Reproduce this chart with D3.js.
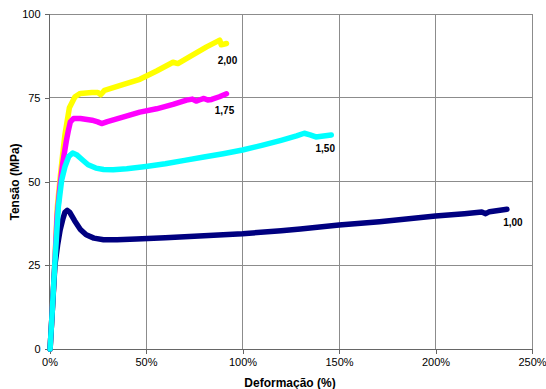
<!DOCTYPE html>
<html><head><meta charset="utf-8">
<script src="https://cdn.jsdelivr.net/npm/d3@7"></script>
<style>body{margin:0;background:#fff}svg{display:block}text{font-family:"Liberation Sans",Arial,sans-serif}</style>
</head><body><svg id="c" width="546" height="389"></svg>
<script>
const xTicks = [0, 50, 100, 150, 200, 250];
const yTicks = [0, 25, 50, 75, 100];
const seriesNames = ["1,00", "1,50", "1,75", "2,00"];
const s100 = [[0.3,0],[1.5,12],[2.8,25],[4.2,31],[5.5,35.5],[7,39],[8,40.8],[9.2,41.4],[10.5,40.8],[13,38.3],[16,35.7],[19,34.1],[23,33.1],[28,32.6],[35,32.6],[45,32.8],[60,33.2],[80,33.8],[100,34.4],[120,35.3],[130,35.8],[150,37],[171,38],[200,39.7],[215,40.4],[224,40.9],[226,40.4],[228,41.0],[237,41.7]];
const s150 = [[0.3,0],[1.5,12],[2.7,25],[4,37],[4.6,42.5],[6.3,50.4],[8,54.4],[10,57.5],[12,58.5],[14,58],[17,56.5],[20,55],[24,54],[28,53.6],[33,53.5],[40,53.8],[50,54.5],[60,55.3],[70,56.3],[80,57.3],[90,58.3],[100,59.4],[110,60.8],[120,62.3],[128,63.6],[132,64.4],[135,63.9],[138,63.3],[142,63.6],[146,63.9]];
const s175 = [[0.3,0],[1.5,12],[2.7,25],[4,40],[5.5,49],[7,56],[8.7,62],[9.7,65],[10.8,67.8],[12.5,68.8],[16,68.8],[22,68.3],[25,67.8],[27,67.3],[30,67.9],[38,69.2],[46.8,70.7],[55.5,71.7],[64,73],[71,74.3],[74,74.6],[76,74],[78,74.4],[80,74.8],[82,74.3],[84,74.5],[88,75.3],[91.7,76.2]];
const s200 = [[0.3,0],[1.5,12],[2.7,25],[4,42],[5.5,51],[6.8,58],[8,64],[10.3,72],[13.2,75.3],[16,76.3],[22,76.6],[25,76.6],[26.5,75.9],[28.5,77.2],[38,78.9],[46.8,80.5],[55.5,83],[64,85.6],[66.5,85.2],[72.7,87.3],[81.4,90.2],[88.2,92.2],[89,90.8],[91.7,91.2]];

const data = [s100, s150, s175, s200];
const colors = ["#000080", "#00FFFF", "#FF00FF", "#FFFF00"];
const labelOffsets = [[6,17],[-6,17],[-2,20],[1,21]];

const svg = d3.select("#c");
const x = d3.scaleLinear().domain([0,250]).range([49.5,532]);
const y = d3.scaleLinear().domain([0,100]).range([349,14]);

// grid
svg.append("g").selectAll("line").data(yTicks.filter(d=>d>0)).join("line")
  .attr("x1",x(0)).attr("x2",x(250)).attr("y1",d=>y(d)).attr("y2",d=>y(d))
  .attr("stroke","#8c8c8c").attr("stroke-width",1).attr("shape-rendering","crispEdges");
svg.append("g").selectAll("line").data(xTicks.filter(d=>d>0)).join("line")
  .attr("x1",d=>x(d)).attr("x2",d=>x(d)).attr("y1",y(0)).attr("y2",y(100))
  .attr("stroke","#8c8c8c").attr("stroke-width",1).attr("shape-rendering","crispEdges");

// axes
const xAxis = d3.axisBottom(x).tickValues(xTicks).tickSize(5).tickPadding(4).tickFormat(d=>d+"%");
const yAxis = d3.axisLeft(y).tickValues(yTicks).tickSize(5).tickPadding(4);
const gx = svg.append("g").attr("transform",`translate(0,${y(0)})`).call(xAxis);
const gy = svg.append("g").attr("transform",`translate(${x(0)},0)`).call(yAxis);
[gx,gy].forEach(g=>{
  g.select(".domain").attr("stroke","#666").attr("shape-rendering","crispEdges");
  g.selectAll(".tick line").attr("stroke","#666").attr("shape-rendering","crispEdges");
  g.selectAll("text").attr("font-size",11).attr("fill","#000").attr("font-family","Liberation Sans, Arial, sans-serif");
});
gy.select(".domain").attr("d",`M-5,${y(100)}H0V${y(0)}H-5`);

// lines
const line = d3.line().x(d=>x(d[0])).y(d=>y(d[1])).curve(d3.curveLinear);
const order = [3,2,0,1];
order.forEach(i=>{
  svg.append("path").datum(data[i]).attr("d",line).attr("fill","none")
    .attr("stroke",colors[i]).attr("stroke-width",5.5).attr("stroke-linejoin","round").attr("stroke-linecap","round");
});

// labels
data.forEach((s,i)=>{
  const last = s[s.length-1];
  svg.append("text").attr("x",x(last[0])+labelOffsets[i][0]).attr("y",y(last[1])+labelOffsets[i][1])
    .attr("text-anchor","middle").attr("font-size",10).attr("font-weight","bold").text(seriesNames[i]);
});

// titles
svg.append("text").attr("x",290).attr("y",387).attr("text-anchor","middle")
  .attr("font-size",12).attr("font-weight","bold").text("Deformação (%)");
svg.append("text").attr("transform","translate(19,182) rotate(-90)").attr("text-anchor","middle")
  .attr("font-size",12).attr("font-weight","bold").text("Tensão (MPa)");
</script></body></html>
